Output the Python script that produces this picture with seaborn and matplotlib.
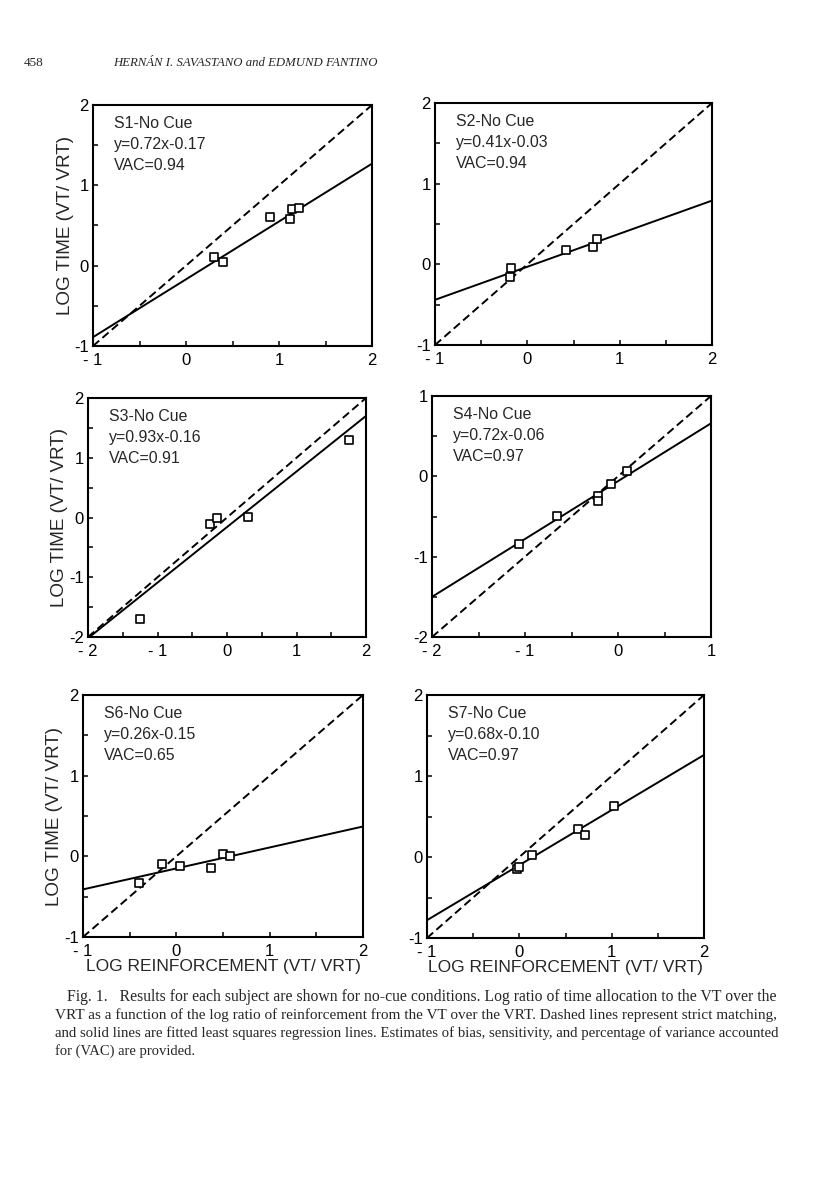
"""Fig. 1 of Savastano & Fantino: log time vs log reinforcement, no-cue conditions."""

import matplotlib.pyplot as plt
import numpy as np
import pandas as pd
import seaborn as sns

# ---- data ----
SUBJECTS = ["S1", "S2", "S3", "S4", "S6", "S7"]
SLOPES = [0.72, 0.41, 0.93, 0.72, 0.26, 0.68]
INTERCEPTS = [-0.17, -0.03, -0.16, -0.06, -0.15, -0.10]
VAC = [0.94, 0.94, 0.91, 0.97, 0.65, 0.97]
AXIS_RANGES = [(-1, 2), (-1, 2), (-2, 2), (-2, 1), (-1, 2), (-1, 2)]

s1_x = [0.30, 0.40, 0.90, 1.12, 1.14, 1.21]
s1_y = [0.11, 0.04, 0.60, 0.58, 0.71, 0.72]
s2_x = [-0.18, -0.19, 0.42, 0.71, 0.75]
s2_y = [-0.05, -0.16, 0.18, 0.21, 0.31]
s3_x = [-1.25, -0.24, -0.14, 0.30, 1.76]
s3_y = [-1.70, -0.11, 0.00, 0.01, 1.30]
s4_x = [-1.06, -0.66, -0.22, -0.22, -0.07, 0.10]
s4_y = [-0.84, -0.49, -0.24, -0.31, -0.10, 0.07]
s6_x = [-0.40, -0.15, 0.04, 0.37, 0.50, 0.58]
s6_y = [-0.33, -0.09, -0.12, -0.14, 0.03, 0.00]
s7_x = [-0.03, 0.00, 0.14, 0.64, 0.71, 1.03]
s7_y = [-0.15, -0.12, 0.02, 0.35, 0.27, 0.63]

POINTS_X = [s1_x, s2_x, s3_x, s4_x, s6_x, s7_x]
POINTS_Y = [s1_y, s2_y, s3_y, s4_y, s6_y, s7_y]

HEADER_PAGE = "458"
HEADER_AUTHORS = "HERNÁN I. SAVASTANO and EDMUND FANTINO"
Y_LABEL = "LOG TIME (VT/ VRT)"
X_LABEL = "LOG REINFORCEMENT (VT/ VRT)"
CAPTION = [
    "Fig. 1.   Results for each subject are shown for no-cue conditions. Log ratio of time allocation to the VT over the",
    "VRT as a function of the log ratio of reinforcement from the VT over the VRT. Dashed lines represent strict matching,",
    "and solid lines are fitted least squares regression lines. Estimates of bias, sensitivity, and percentage of variance accounted",
    "for (VAC) are provided.",
]

# ---- layout (pixel boxes on the 816x1200 page: left, top, right, bottom) ----
W, H = 816, 1200
BOXES = [
    (93, 105, 372, 346),
    (435, 103, 712, 345),
    (88, 398, 366, 637),
    (432, 396, 711, 637),
    (83, 695, 363, 937),
    (427, 695, 704, 938),
]
YLABEL_OFFSET_PX = 28

sns.set_theme(style="ticks")
plt.rcParams["font.family"] = ["Liberation Sans", "DejaVu Sans"]


def tick_text(v: float, spaced: bool) -> str:
    if abs(v - round(v)) > 1e-9:
        return ""
    v = int(round(v))
    if v < 0:
        return f"- {abs(v)}" if spaced else f"-{abs(v)}"
    return str(v)


def draw_panel(ax, i: int, width_px: float) -> None:
    lo, hi = AXIS_RANGES[i]
    df = pd.DataFrame({"x": POINTS_X[i], "y": POINTS_Y[i]})

    # strict matching and fitted regression line
    ax.axline((0, 0), slope=1, color="black", lw=1.4, ls=(0, (4.2, 2.2)), zorder=2)
    ax.axline((0, INTERCEPTS[i]), slope=SLOPES[i], color="black", lw=1.4, zorder=2)
    sns.scatterplot(
        data=df, x="x", y="y", ax=ax, marker="s", s=38,
        facecolors="white", edgecolor="black", linewidth=1.2, zorder=3,
    )

    ax.set_xlim(lo, hi)
    ax.set_ylim(lo, hi)
    ticks = np.arange(lo, hi + 0.01, 0.5)
    ax.set_xticks(ticks)
    ax.set_yticks(ticks)
    ax.set_xticklabels([tick_text(t, True) for t in ticks])
    ax.set_yticklabels([tick_text(t, False) for t in ticks])
    ax.tick_params(direction="in", length=3.8, width=1.1, labelsize=12,
                   colors="black")
    ax.tick_params(axis="y", pad=3)
    ax.tick_params(axis="x", pad=5)
    for sp in ax.spines.values():
        sp.set_visible(True)
        sp.set_linewidth(1.5)
        sp.set_color("black")

    sign = "-" if INTERCEPTS[i] < 0 else "+"
    label = (f"{SUBJECTS[i]}-No Cue\n"
             f"y={SLOPES[i]:.2f}x{sign}{abs(INTERCEPTS[i]):.2f}\n"
             f"VAC={VAC[i]:.2f}")
    ax.annotate(label, xy=(0, 1), xycoords="axes fraction",
                xytext=(21, -11), textcoords="offset pixels",
                ha="left", va="top", fontsize=11.4, linespacing=1.5)

    ax.set_xlabel("")
    ax.set_ylabel("")
    if i % 2 == 0:
        ax.set_ylabel(Y_LABEL, fontsize=13.6, va="center")
        ax.yaxis.set_label_coords(-YLABEL_OFFSET_PX / width_px, 0.5)
    if i >= 4:
        ax.set_xlabel(X_LABEL, fontsize=12.5, labelpad=0)


def main() -> None:
    fig = plt.figure(figsize=(W / 100, H / 100), dpi=100)
    fig.patch.set_facecolor("white")

    for i, (l, t, r, b) in enumerate(BOXES):
        ax = fig.add_axes([l / W, 1 - b / H, (r - l) / W, (b - t) / H])
        ax.set_facecolor("white")
        draw_panel(ax, i, r - l)

    serif = ["Liberation Serif", "DejaVu Serif"]
    fig.text(24 / W, 1 - 63 / H, HEADER_PAGE, family=serif, fontsize=9.5, va="center")
    fig.text(113 / W, 1 - 63 / H, HEADER_AUTHORS, family=serif, style="italic",
             fontsize=9.2, va="center")

    # caption, each line stretched to the justified column width
    renderer = fig.canvas.get_renderer()
    right = 773
    for k, line in enumerate(CAPTION):
        left = 67 if k == 0 else 55
        y = 1 - (997 + 18 * k) / H
        txt = fig.text(left / W, y, line, family=serif, fontsize=10.5, va="center")
        if k < len(CAPTION) - 1:
            width = txt.get_window_extent(renderer).width
            txt.set_fontsize(10.5 * (right - left) / width)

    fig.savefig("out.png", dpi=100)
    plt.close(fig)


if __name__ == "__main__":
    main()
